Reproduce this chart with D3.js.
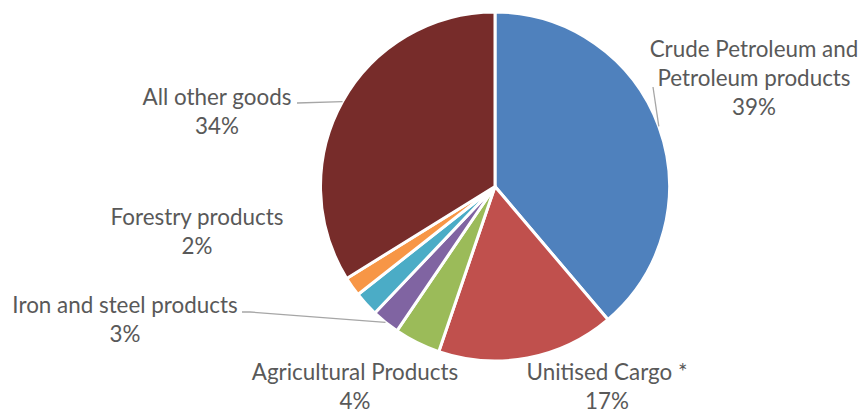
<!DOCTYPE html>
<html>
<head>
<meta charset="utf-8">
<script src="https://cdn.jsdelivr.net/npm/d3@7"></script>
<style>
  body { margin: 0; background: #fff; }
  text { font-family: Lato, "Open Sans", sans-serif; fill: #595959; }
</style>
</head>
<body>
<script>
// Data
const categories = ["Crude Petroleum and Petroleum products", "Unitised Cargo *", "Agricultural Products",
  "Iron and steel products", "Forestry products", "Other", "All other goods"];
const values = [39, 16.5, 4.3, 2.6, 2.3, 1.8, 34];
const pctLabels = ["39%", "17%", "4%", "3%", "2%", "", "34%"];
const colors = ["#4F81BD", "#C0504D", "#9BBB59", "#8064A2", "#4BACC6", "#F79646", "#772C2A"];

// label layout (lines, centre x, first baseline, leader start)
const labelLayout = [
  { lines: ["Crude Petroleum and", "Petroleum products"], x: 754, y: 57, leader: [[653, 87]] },
  { lines: ["Unitised Cargo *"], x: 607, y: 380 },
  { lines: ["Agricultural Products"], x: 355, y: 380 },
  { lines: ["Iron and steel products"], x: 125, y: 313, leader: [[242, 312], [250, 312]] },
  { lines: ["Forestry products"], x: 197, y: 225 },
  null,
  { lines: ["All other goods"], x: 217, y: 105, leader: [[297, 103]] }
];

const width = 861, height = 413;
const cx = 495, cy = 186.5, radius = 174.5;

const svg = d3.select("body").append("svg")
  .attr("width", width)
  .attr("height", height);

const pie = d3.pie().sort(null).value(d => d);
const arcs = pie(values);
const arc = d3.arc().innerRadius(0).outerRadius(radius);

const g = svg.append("g").attr("transform", `translate(${cx}, ${cy})`);

g.selectAll("path")
  .data(arcs)
  .enter().append("path")
  .attr("d", arc)
  .attr("fill", (d, i) => colors[i])
  .attr("stroke", "#fff")
  .attr("stroke-width", 3)
  .attr("stroke-linejoin", "round");

// Leader lines
const lineGen = d3.line();
arcs.forEach((a, i) => {
  const lay = labelLayout[i];
  if (!lay || !lay.leader) return;
  const mid = (a.startAngle + a.endAngle) / 2;
  const end = [cx + Math.sin(mid) * radius, cy - Math.cos(mid) * radius];
  svg.append("path")
    .attr("d", lineGen(lay.leader.concat([end])))
    .attr("fill", "none")
    .attr("stroke", "#A6A6A6")
    .attr("stroke-width", 1.3);
});

// Labels
const lineH = 29;
arcs.forEach((a, i) => {
  const lay = labelLayout[i];
  if (!lay) return;
  const t = svg.append("text")
    .attr("text-anchor", "middle")
    .style("font-size", "22.4px");
  lay.lines.concat([pctLabels[i]]).forEach((s, k) => {
    t.append("tspan")
      .attr("x", lay.x)
      .attr("y", lay.y + k * lineH)
      .text(s);
  });
});
</script>
</body>
</html>
